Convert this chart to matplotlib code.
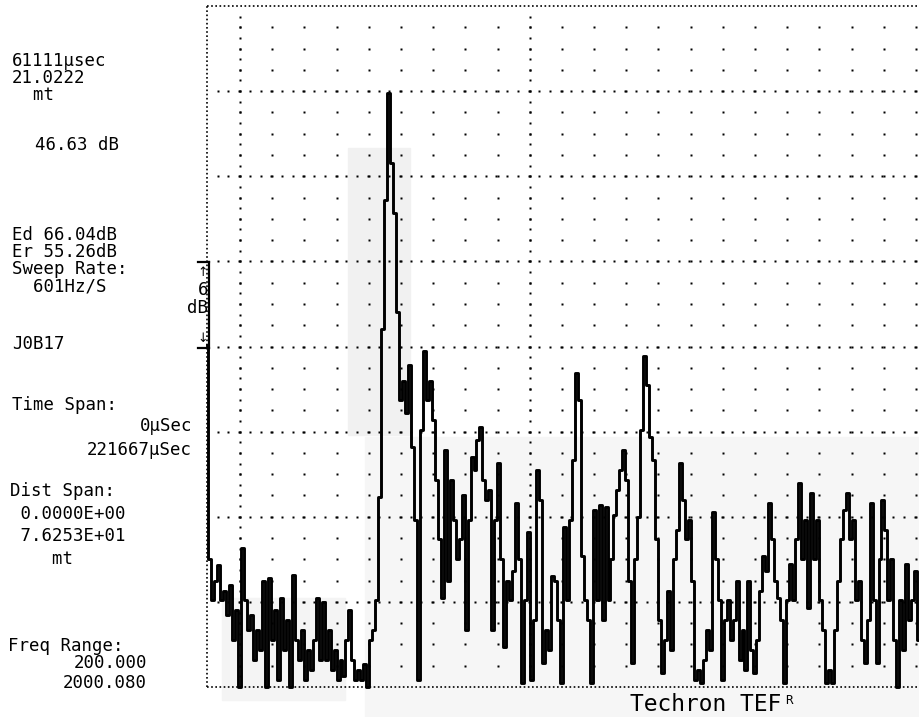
import numpy as np
import matplotlib.pyplot as plt
from matplotlib.lines import Line2D
from matplotlib.patches import Rectangle

# ETC level in dB, one sample per ms
noise_db = [24.1, 9.0, 6.1, 7.5, 8.6, 6.1, 6.8, 5.1, 7.2, 3.3,
            5.4, 0.0, 9.8, 6.1, 4.0, 5.1, 1.9, 4.0, 2.6, 7.5,
            0.0, 7.7, 3.3, 5.4, 0.5, 6.3, 2.6, 4.7, 0.0, 7.9,
            3.3, 1.9, 4.0, 0.5, 2.6, 1.2, 3.3, 6.3, 1.9, 6.0,
            1.9, 4.0, 1.2, 2.6, 0.5, 1.9, 0.8, 3.3, 5.4, 1.9,
            0.5, 1.2, 0.5, 1.6, 0.0, 3.3, 4.0]
direct_db = [6.1, 13.4, 25.2, 34.3, 41.9, 36.9, 33.4, 26.4, 20.2, 21.6,
             19.3, 22.7, 16.9, 11.8, 0.5, 18.1, 23.7, 20.2, 21.6, 18.8,
             14.6, 10.4, 6.3]
late_db = [16.7, 7.5, 14.6, 11.8, 9.0, 10.4, 13.5, 4.0, 11.8, 16.2,
           15.3, 17.4, 18.3, 14.6, 13.2, 13.9, 4.0, 11.8, 15.8, 9.0,
           2.8, 7.5, 6.1, 8.2, 13.0, 9.0, 0.3, 6.1, 10.9, 0.5,
           4.7, 15.3, 13.2, 1.7, 4.0, 2.6, 7.8, 7.5, 4.7, 0.3,
           11.3, 6.1, 11.8, 16.0, 22.1, 20.2, 9.2, 6.1, 4.7, 0.3,
           12.5, 6.1, 12.8, 4.7, 12.7, 6.1, 9.0, 12.1, 13.9, 15.3,
           16.7, 14.6, 7.5, 1.7, 9.0, 12.0, 18.1, 23.3, 21.3, 17.6,
           16.0, 10.4, 4.7, 1.0, 3.3, 6.8, 2.6, 9.0, 11.1, 15.8,
           13.2, 10.4, 11.8, 7.5, 0.5, 1.2, 0.3, 1.9, 4.0, 2.6,
           12.3, 9.0, 6.1, 0.5, 4.7, 6.1, 3.3, 4.7, 7.5, 1.9,
           4.0, 1.2, 7.5, 2.6, 1.0, 3.3, 6.8, 9.2, 8.2, 13.0,
           10.4, 7.5, 6.3, 4.7, 0.3, 6.1, 8.7, 6.1, 10.4, 14.4,
           9.0, 11.8, 5.6, 13.7, 9.0, 11.8, 6.1, 4.0, 0.3, 1.2,
           0.3, 4.0, 7.5, 10.4, 12.5, 13.7, 10.4, 11.8, 6.1, 7.5,
           3.3, 1.7, 4.7, 13.0, 6.1, 1.7, 9.0, 13.2, 11.1, 6.1,
           9.0, 3.3, 0.0, 6.1, 2.6, 8.7, 4.7, 6.1, 8.2, 3.3]

level_db = np.array(noise_db + direct_db + late_db)
time_ms = np.arange(len(level_db))  # 1 ms per sample

# readout blocks: (text, x px, top y px, line pitch px, align)
readout = [("61111\u00b5sec\n21.0222\n  mt", 12, 52, 12.3, 'left'),
           ("46.63 dB", 35, 136, 12.3, 'left'),
           ("Ed 66.04dB\nEr 55.26dB\nSweep Rate:\n  601Hz/S", 12, 226, 12.4, 'left'),
           ("J0B17", 12, 335, 12.3, 'left'),
           ("Time Span:", 12, 396, 12.3, 'left'),
           ("0\u00b5Sec\n221667\u00b5Sec", 192, 417, 19, 'right'),
           ("Dist Span:\n 0.0000E+00\n 7.6253E+01\n    mt", 10, 482, 17.5, 'left'),
           ("Freq Range:", 8, 637, 12.3, 'left'),
           ("200.000\n2000.080", 147, 654, 15.5, 'right')]

W, H = 919, 717
FS = 12.5
fig = plt.figure(figsize=(W / 100, H / 100), dpi=100)

def fx(x):
    return x / W

def fy(y):
    return 1 - y / H

# faint scan shading
for x0, y0, x1, y1, c in [(348, 148, 410, 435, '#f1f1f1'),
                          (365, 437, 919, 717, '#f6f6f6'),
                          (222, 598, 345, 700, '#f4f4f4')]:
    fig.patches.append(Rectangle((fx(x0), fy(y1)), (x1 - x0) / W, (y1 - y0) / H,
                                 transform=fig.transFigure, color=c, zorder=-5))

ax = fig.add_axes([fx(207), fy(687), (919 - 207) / W, (687 - 6) / H])
ax.set_zorder(2)
ax.set_xlim(0, 239.1)
ax.set_ylim(0, 48)
ax.axis('off')
ax.patch.set_visible(False)

# dot grid
dot = dict(ls='none', marker='s', ms=1.6, mfc='black', mec='none')
cols = 11.08 + 10.81 * np.arange(22)
rows = 1.5 * np.arange(1, 32)
cx, cy = np.meshgrid(cols, rows)
ax.plot(cx.ravel(), cy.ravel(), **dot)
xs = np.arange(3.6, 239, 3.6)
for lv in range(6, 48, 6):
    ax.plot(xs, np.full_like(xs, lv), **dot)
ys = np.arange(0.75, 48, 0.75)
for c in (cols[0], cols[9]):
    ax.plot(np.full_like(ys, c), ys, **dot)

frame = dict(color='black', lw=1.2, ls=(0, (1, 1.5)), clip_on=False)
ax.plot([0, 239.1], [48, 48], **frame)
ax.plot([0, 239.1], [0, 0], **frame)
ax.plot([0, 0], [0, 48], **frame)

ax.plot(time_ms, level_db, color='black', lw=2.1, drawstyle='steps-mid',
        clip_on=False, zorder=5)

# readout text
em = FS * 100 / 72
for s, x, y, pitch, al in readout:
    fig.text(fx(x), fy(y), s, ha=al, va='top', multialignment=al,
             family='DejaVu Sans Mono', fontsize=FS,
             linespacing=pitch / (0.76 * em))

# 6 dB scale bracket
for xa, ya, xb, yb in [(209, 262, 209, 348), (198, 262, 209, 262), (198, 348, 209, 348)]:
    fig.add_artist(Line2D([fx(xa), fx(xb)], [fy(ya), fy(yb)], color='black', lw=1.6,
                          transform=fig.transFigure))
fig.text(fx(203), fy(272), "\u2191", ha='center', va='center', fontsize=9, family='DejaVu Sans')
fig.text(fx(203), fy(338), "\u2193", ha='center', va='center', fontsize=9, family='DejaVu Sans')
fig.text(fx(203), fy(290), "6", ha='center', va='center', family='DejaVu Sans Mono', fontsize=FS)
fig.text(fx(208), fy(308), "dB", ha='right', va='center', family='DejaVu Sans Mono', fontsize=FS)

fig.text(fx(630), fy(711), "Techron TEF", ha='left', va='baseline',
         family='DejaVu Sans Mono', fontsize=16.5)
fig.text(fx(785), fy(700), "R", ha='left', va='center',
         family='DejaVu Sans Mono', fontsize=9)

fig.savefig('out.png', dpi=100)
